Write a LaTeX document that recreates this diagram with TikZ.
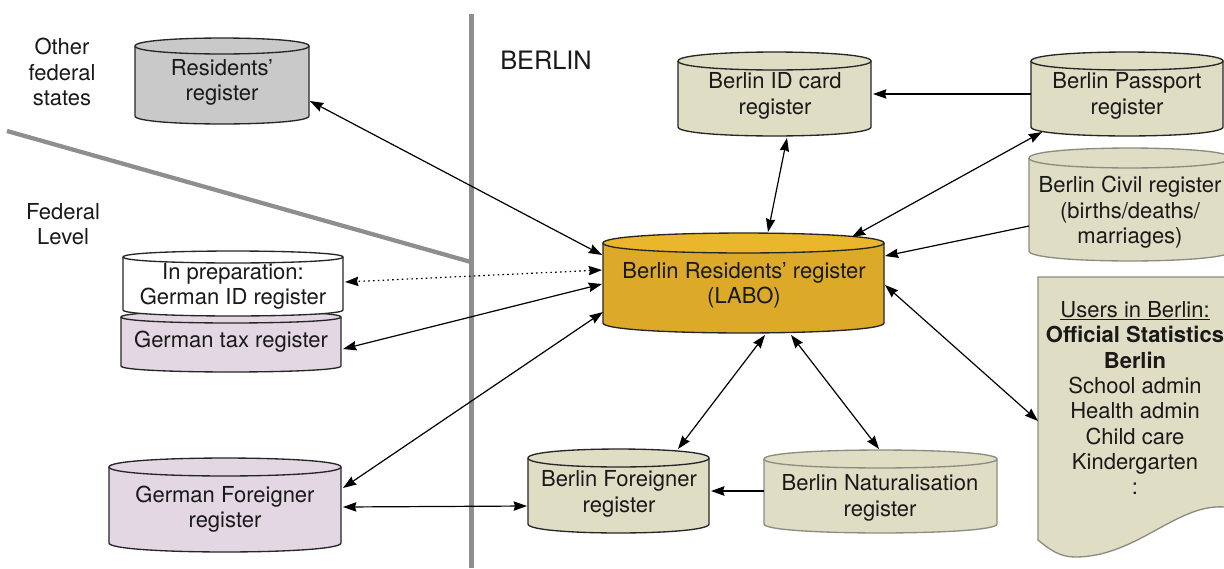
\documentclass[tikz,border=0pt]{standalone}
\usepackage{fontspec}
\setmainfont{TeX Gyre Heros}
\usetikzlibrary{arrows.meta,calc}
\definecolor{khaki}{HTML}{E0DDC5}
\definecolor{lilac}{HTML}{E3D7E3}
\definecolor{greyreg}{HTML}{C9C9C9}
\definecolor{gold}{HTML}{DCAA28}
\definecolor{goldtop}{HTML}{E9B62C}
\definecolor{divider}{HTML}{8E8E8E}
\definecolor{softedge}{HTML}{8C8C80}
\tikzset{
  x=0.75pt,y=-0.75pt,
  txt/.style={font=\fontsize{16.5}{19}\selectfont,align=center,inner sep=0pt,text=black!90},
  body/.style={inner sep=0pt,outer sep=0pt,anchor=north west},
  darkcyl/.style={draw=black!85,line width=1pt},
  softcyl/.style={draw=softedge,line width=1pt},
  link/.style={line width=0.9pt,draw=black,{Stealth[length=10pt,width=7pt,inset=1pt]}-{Stealth[length=10pt,width=7pt,inset=1pt]}},
  oneway/.style={line width=0.9pt,draw=black,-{Stealth[length=10pt,width=7pt,inset=1pt]}},
  divline/.style={draw=divider,line width=3.2pt},
}
% name, x1, x2, y1, y2, ry, fill, edge style, top fill
\newcommand\regcyl[9]{%
  \pgfmathsetmacro\cw{0.75*(#3-(#2))}%
  \pgfmathsetmacro\ch{0.75*(#5-(#4))}%
  \pgfmathsetmacro\ya{#4+#6}%
  \pgfmathsetmacro\yb{#5-#6}%
  \pgfmathsetmacro\yd{#4-0.33*#6}%
  \pgfmathsetmacro\ye{#4+2.33*#6}%
  \pgfmathsetmacro\yf{#5+0.33*#6}%
  \fill[#7] (#2,\ya) -- (#2,\yb) .. controls (#2,\yf) and (#3,\yf) .. (#3,\yb) -- (#3,\ya) -- cycle;
  \draw[#8] (#2,\ya) -- (#2,\yb) .. controls (#2,\yf) and (#3,\yf) .. (#3,\yb) -- (#3,\ya);
  \draw[#8,fill=#9] (#2,\ya) .. controls (#2,\yd) and (#3,\yd) .. (#3,\ya) .. controls (#3,\ye) and (#2,\ye) .. (#2,\ya) -- cycle;
  \node[body,minimum width=\cw pt,minimum height=\ch pt] (#1) at (#2,#4) {};
}
\begin{document}
\begin{tikzpicture}
\path[clip,use as bounding box] (0,0) rectangle (1224,568);
\fill[white] (0,0) rectangle (1224,568);

% dividers
\coordinate (vtop) at (471.5,14);
\coordinate (vbot) at (471.5,568);
\coordinate (dstart) at (7,131);
\coordinate (dend) at (471,262);
\draw[divline] (vtop) -- (vbot);
\draw[divline] (dstart) -- (dend);

% registers
\regcyl{res}{135}{309}{38}{124}{8}{greyreg}{darkcyl}{greyreg}
\regcyl{idcard}{678}{871}{52}{136}{9}{khaki}{darkcyl}{khaki}
\regcyl{pass}{1031}{1223}{52}{136}{9}{khaki}{darkcyl}{khaki}
\regcyl{civil}{1029}{1231}{148}{261}{10}{khaki}{softcyl}{khaki}
\regcyl{labo}{603}{884}{233}{333}{10}{gold}{darkcyl}{goldtop}
\regcyl{tax}{121}{341}{311}{372}{6}{lilac}{darkcyl}{lilac}
\regcyl{idreg}{123}{343}{251}{316}{6}{white}{darkcyl}{white}
\regcyl{gforeign}{109}{341}{458}{552}{9}{lilac}{darkcyl}{lilac}
\regcyl{bforeign}{528}{709}{449}{533}{9}{khaki}{darkcyl}{khaki}
\regcyl{natur}{764}{997}{450}{533}{9}{khaki}{softcyl}{khaki}

% users document
\draw[softcyl,fill=khaki] (1038,277) -- (1232,277) -- (1232,508)
  .. controls (1180,498) and (1140,557) .. (1075,557)
  .. controls (1060,557) and (1050,550) .. (1038,540) -- cycle;
\node[body,minimum width=145.5pt,minimum height=208.5pt] (users) at (1038,277) {};

% texts
\node[txt] (t-other) at (62,72) {Other\\federal\\states};
\node[txt] (t-federal) at (63,224) {Federal\\Level};
\node[txt,anchor=west,font=\fontsize{19}{22}\selectfont] (t-berlin) at (500,60.5) {BERLIN};
\node[txt] (t-res) at (222,82.5) {Residents’\\register};
\node[txt] (t-idcard) at (775,96) {Berlin ID card\\register};
\node[txt] (t-pass) at (1127,96) {Berlin Passport\\register};
\node[txt] (t-civil) at (1130,212.5) {Berlin Civil register\\(births/deaths/\\marriages)};
\node[txt] (t-labo) at (744,285.5) {Berlin Residents’ register\\(LABO)};
\node[txt] (t-idreg) at (233,286.5) {In preparation:\\German ID register};
\node[txt] (t-tax) at (231,341.5) {German tax register};
\node[txt] (t-gforeign) at (225,509) {German Foreigner\\register};
\node[txt] (t-bforeign) at (619,494) {Berlin Foreigner\\register};
\node[txt] (t-natur) at (880,498) {Berlin Naturalisation\\register};
\node[txt] (t-users) at (1135,398) {\underline{Users in Berlin:}\\\textbf{Official Statistics}\\\textbf{Berlin}\\School admin\\Health admin\\Child care\\Kindergarten\\:};

% connectors
\draw[link] ([shift={(175,63)}]res.north west) -- ([shift={(-1,22)}]labo.north west);
\draw[link] ([shift={(109,86)}]idcard.north west) -- ([shift={(165,-1)}]labo.north west);
\draw[oneway] ([shift={(0,42)}]pass.north west) -- ([shift={(195,42)}]idcard.north west);
\draw[link] ([shift={(11,80)}]pass.north west) -- ([shift={(249,4)}]labo.north west);
\draw[oneway] ([shift={(0,78)}]civil.north west) -- ([shift={(282,23)}]labo.north west);
\draw[link] ([shift={(0,144)}]users.north west) -- ([shift={(282,52)}]labo.north west);
\draw[link] ([shift={(162,102)}]labo.north west) -- ([shift={(150,0)}]bforeign.north west);
\draw[link] ([shift={(188,102)}]labo.north west) -- ([shift={(115,-1)}]natur.north west);
\draw[oneway,line width=1.5pt] ([shift={(0,41)}]natur.north west) -- ([shift={(183,42)}]bforeign.north west);
\draw[link] ([shift={(234,49)}]gforeign.north west) -- ([shift={(-1,57)}]bforeign.north west);
\draw[link] ([shift={(0,79)}]labo.north west) -- ([shift={(234,30)}]gforeign.north west);
\draw[link] ([shift={(-1,51)}]labo.north west) -- ([shift={(222,38)}]tax.north west);
\draw[link,dash pattern=on 1.2pt off 2.4pt] ([shift={(-1,37)}]labo.north west) -- ([shift={(222,31)}]idreg.north west);
\end{tikzpicture}
\end{document}
